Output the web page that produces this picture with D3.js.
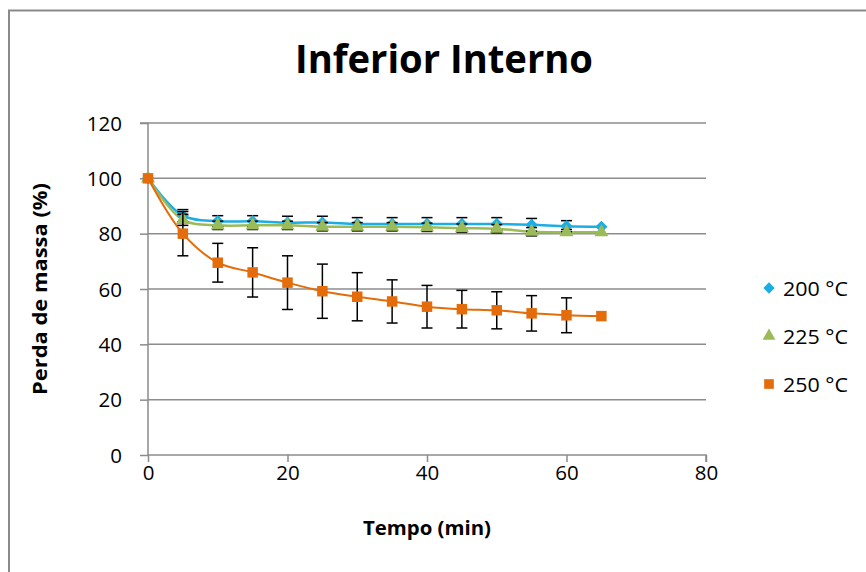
<!DOCTYPE html>
<html><head><meta charset="utf-8">
<script src="https://cdn.jsdelivr.net/npm/d3@7/dist/d3.min.js"></script>
<style>body{margin:0;background:#fff}svg{display:block}</style>
</head><body>
<svg id="c" width="866" height="572"></svg>
<script>
const times = [0,5,10,15,20,25,30,35,40,45,50,55,60,65];
const s200 = [100,86.5,84.5,84.5,84,84,83.5,83.5,83.5,83.5,83.5,83.2,82.7,82.5];
const s225 = [100,85,83,83,83,82.5,82.5,82.5,82.3,82,81.8,80.7,80.5,80.5];
const s250 = [100,80,69.5,66,62.3,59.2,57.2,55.5,53.6,52.7,52.3,51.2,50.5,50.2];
const e200 = [0,2.2,2,2,2.3,2.3,2.3,2.3,2.3,2.3,2.3,2.3,2,0];
const e225 = [0,2,1.5,1.5,1.5,1.5,1.5,1.5,1.5,1.5,1.5,1.5,1,0];
const e250 = [0,8,7,8.9,9.7,9.8,8.7,7.8,7.7,6.8,6.7,6.4,6.3,0];
const xTicks = [0,20,40,60,80];
const yTicks = [0,20,40,60,80,100,120];
const seriesNames = ["200 °C","225 °C","250 °C"];

const svg = d3.select("#c");
const F = "'Open Sans', sans-serif";
svg.append("rect").attr("x",9).attr("y",10.5).attr("width",900).attr("height",600)
  .attr("fill","none").attr("stroke","#8a8a8a").attr("stroke-width",2);

const x = d3.scaleLinear().domain([0,80]).range([148,706]);
const y = d3.scaleLinear().domain([0,120]).range([455,123]);

svg.append("g").selectAll("line").data(yTicks.filter(d=>d>0)).join("line")
  .attr("x1",x(0)).attr("x2",x(80)).attr("y1",d=>y(d)).attr("y2",d=>y(d))
  .attr("stroke","#8c8c8c").attr("stroke-width",1.5);

const gy = svg.append("g").attr("transform",`translate(${x(0)},0)`)
  .call(d3.axisLeft(y).tickValues(yTicks).tickSize(8).tickPadding(18));
const gx = svg.append("g").attr("transform",`translate(0,${y(0)})`)
  .call(d3.axisBottom(x).tickValues(xTicks).tickSize(7).tickPadding(3));
[gx,gy].forEach(g=>{
  g.select(".domain").attr("stroke","#8c8c8c").attr("stroke-width",1.5);
  g.selectAll(".tick line").attr("stroke","#8c8c8c").attr("stroke-width",1.5);
  g.selectAll("text").attr("font-family",F).attr("font-size",20.5).attr("fill","#000");
});
gy.selectAll(".tick text").attr("dy","0.35em");
gy.select(".domain").attr("d",`M-8,${y(120)}H0V${y(0)}`);
gx.select(".domain").attr("d",`M${x(0)},0H${x(80)}V7`);

svg.append("text").attr("x",444).attr("y",73).attr("text-anchor","middle")
  .attr("font-family",F).attr("font-weight",700).attr("font-size",40)
  .attr("textLength",298).attr("lengthAdjust","spacingAndGlyphs").text("Inferior Interno");
svg.append("text").attr("x",427).attr("y",535).attr("text-anchor","middle")
  .attr("font-family",F).attr("font-weight",700).attr("font-size",20)
  .attr("textLength",128).attr("lengthAdjust","spacingAndGlyphs").text("Tempo (min)");
svg.append("text").attr("transform",`translate(47,289) rotate(-90)`).attr("text-anchor","middle")
  .attr("font-family",F).attr("font-weight",700).attr("font-size",20)
  .attr("textLength",212).attr("lengthAdjust","spacingAndGlyphs").text("Perda de massa (%)");

const colors = ["#1cade4","#9bbb59","#e46c0a"];
const vals = [s200,s225,s250];
const errs = [e200,e225,e250];
const line = d3.line().x((d,i)=>x(times[i])).y(d=>y(d)).curve(d3.curveCatmullRom.alpha(0.5));

const symbols = [d3.symbolSquare, d3.symbolTriangle, d3.symbolSquare];
const symSizes = [75,85,110];
const rot = [45,0,0];

vals.forEach((v,k)=>{
  svg.append("path").attr("d",line(v)).attr("fill","none")
    .attr("stroke",colors[k]).attr("stroke-width",k===2?2:2.5);
});
vals.forEach((v,k)=>{
  const g = svg.append("g");
  v.forEach((val,i)=>{
    const e = errs[k][i];
    if(e>0){
      const cx = x(times[i]);
      g.append("line").attr("x1",cx).attr("x2",cx).attr("y1",y(val+e)).attr("y2",y(val-e))
        .attr("stroke","#000").attr("stroke-width",1.5);
      [val+e,val-e].forEach(t=>g.append("line").attr("x1",cx-5.5).attr("x2",cx+5.5)
        .attr("y1",y(t)).attr("y2",y(t)).attr("stroke","#000").attr("stroke-width",1.5));
    }
  });
  g.selectAll("path.m").data(v).join("path").attr("class","m")
    .attr("transform",(d,i)=>`translate(${x(times[i])},${y(d)}) rotate(${rot[k]})`)
    .attr("d",d3.symbol().type(symbols[k]).size(symSizes[k]))
    .attr("fill",colors[k]);
});

const ly = [288,336,384];
seriesNames.forEach((n,k)=>{
  svg.append("path").attr("transform",`translate(769,${ly[k]}) rotate(${rot[k]})`)
    .attr("d",d3.symbol().type(symbols[k]).size(symSizes[k]*0.85))
    .attr("fill",colors[k]);
  svg.append("text").attr("x",783).attr("y",ly[k]+7.5).attr("font-family",F)
    .attr("font-size",20.5).attr("textLength",65).attr("lengthAdjust","spacingAndGlyphs").text(n);
});
</script>
</body></html>
